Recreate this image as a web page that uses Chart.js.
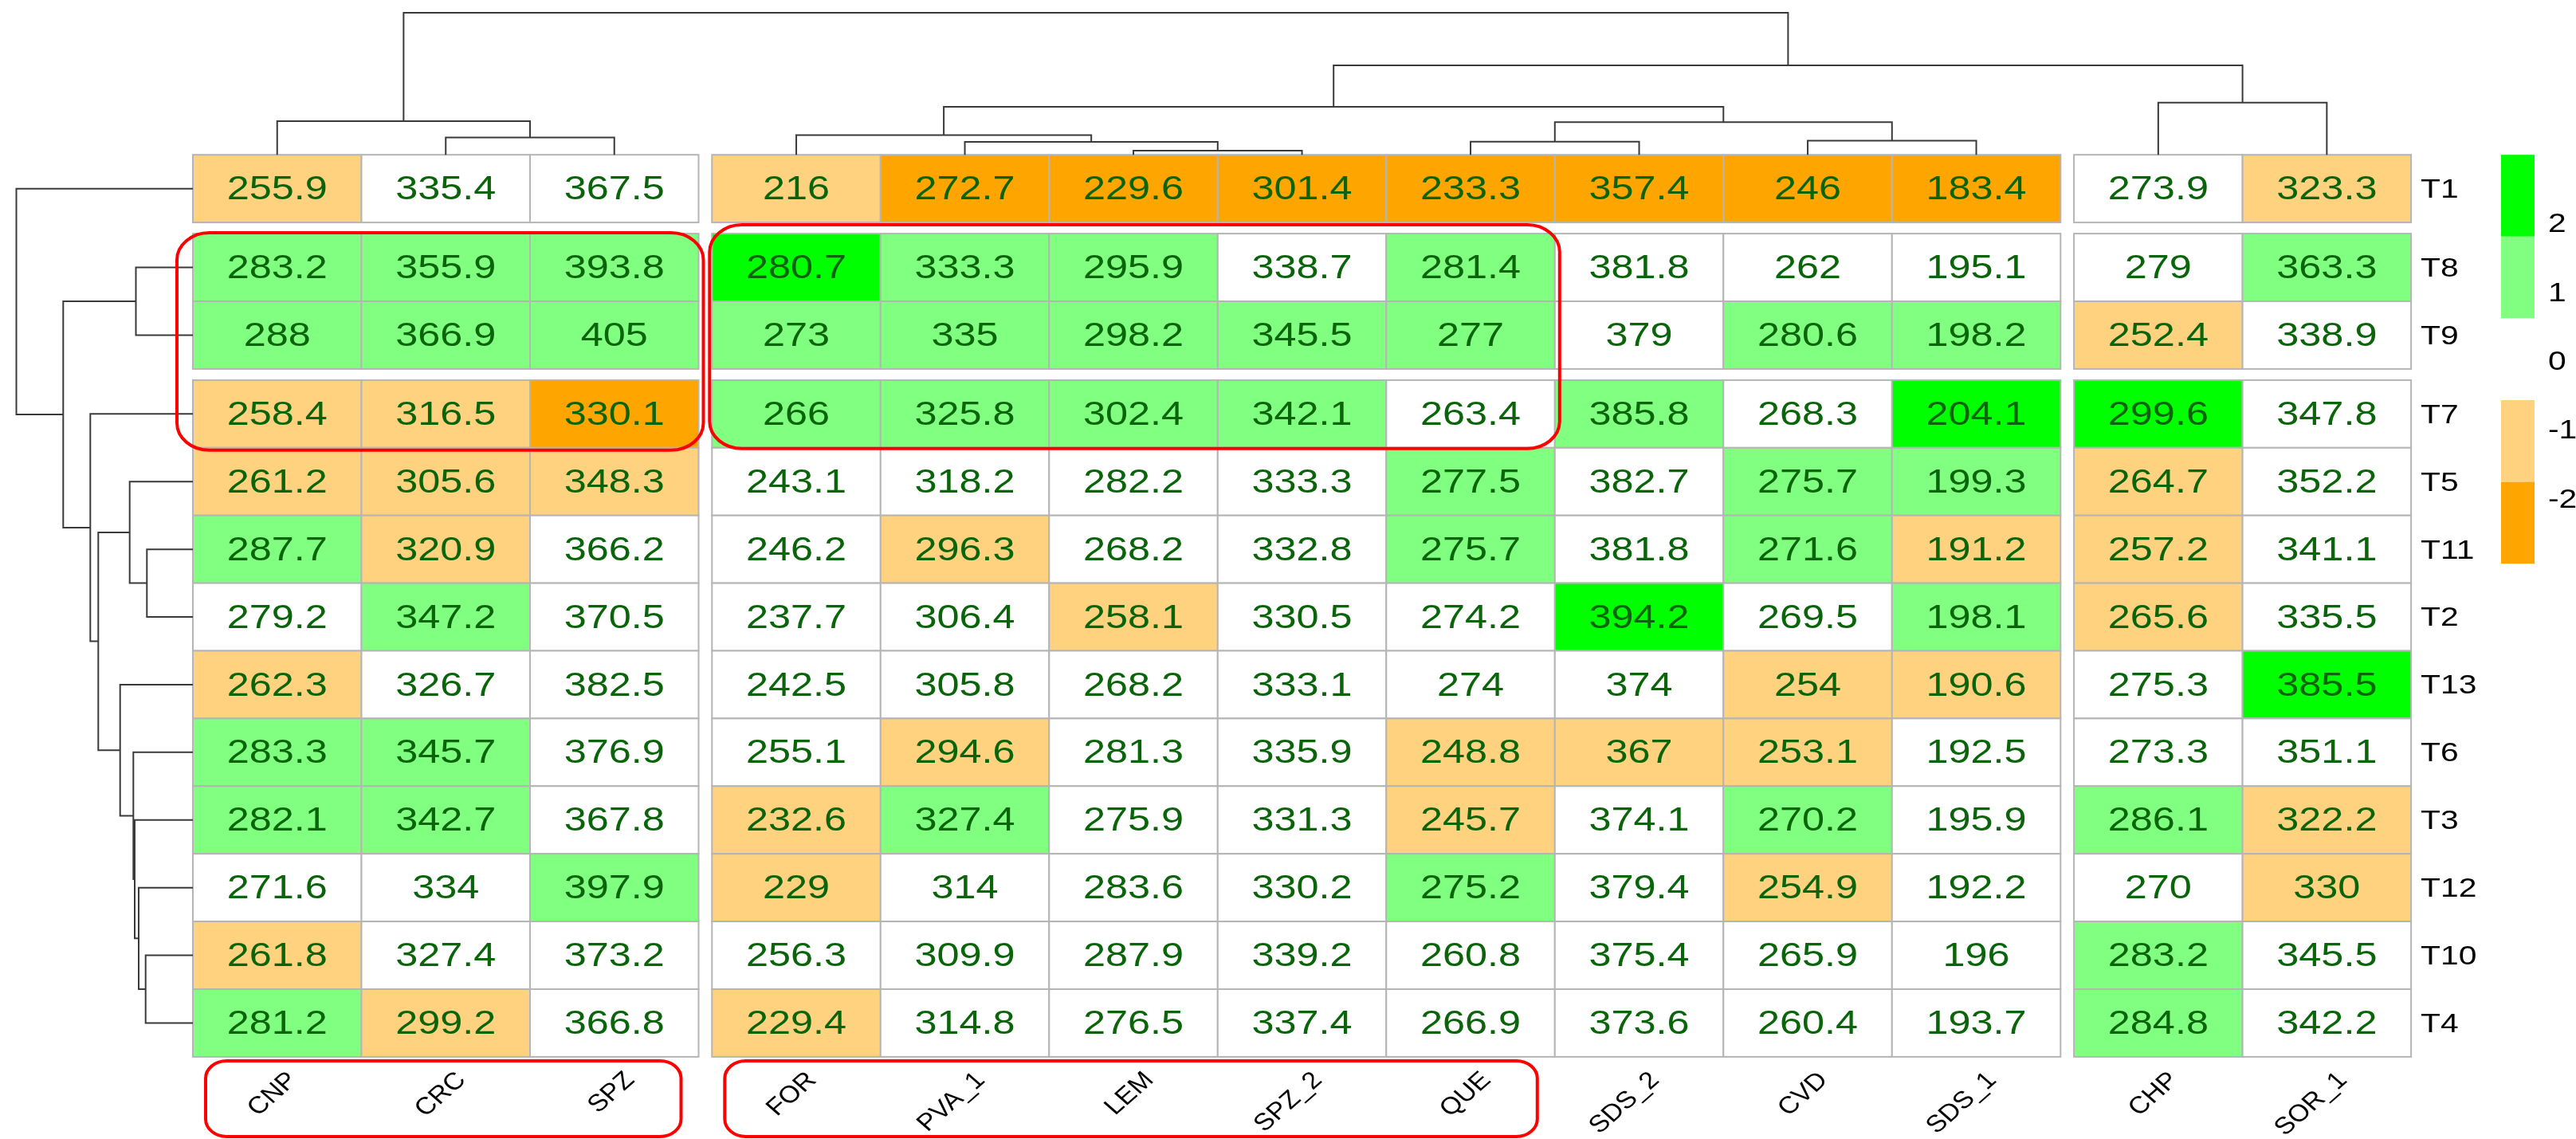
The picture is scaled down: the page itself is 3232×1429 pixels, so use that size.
<!DOCTYPE html>
<html>
<head>
<meta charset="utf-8">
<script src="https://cdn.jsdelivr.net/npm/chart.js@4.4.1/dist/chart.umd.min.js"></script>
<style>
  html, body { margin: 0; padding: 0; background: #fff; }
  canvas { display: block; }
</style>
</head>
<body>
<canvas id="heatmap" width="3232" height="1429"></canvas>
<script>
// columns (samples) and their split groups
const samples = ['CNP', 'CRC', 'SPZ', 'FOR', 'PVA_1', 'LEM', 'SPZ_2', 'QUE', 'SDS_2', 'CVD', 'SDS_1', 'CHP', 'SOR_1'];
const colGroup = [0, 0, 0, 1, 1, 1, 1, 1, 1, 1, 1, 2, 2];

// rows (treatments) and their split groups
const treatments = ['T1', 'T8', 'T9', 'T7', 'T5', 'T11', 'T2', 'T13', 'T6', 'T3', 'T12', 'T10', 'T4'];
const rowGroup = [0, 1, 1, 2, 2, 2, 2, 2, 2, 2, 2, 2, 2];

// cell values, one row per treatment
const values = [
    [255.9, 335.4, 367.5, 216, 272.7, 229.6, 301.4, 233.3, 357.4, 246, 183.4, 273.9, 323.3],
    [283.2, 355.9, 393.8, 280.7, 333.3, 295.9, 338.7, 281.4, 381.8, 262, 195.1, 279, 363.3],
    [288, 366.9, 405, 273, 335, 298.2, 345.5, 277, 379, 280.6, 198.2, 252.4, 338.9],
    [258.4, 316.5, 330.1, 266, 325.8, 302.4, 342.1, 263.4, 385.8, 268.3, 204.1, 299.6, 347.8],
    [261.2, 305.6, 348.3, 243.1, 318.2, 282.2, 333.3, 277.5, 382.7, 275.7, 199.3, 264.7, 352.2],
    [287.7, 320.9, 366.2, 246.2, 296.3, 268.2, 332.8, 275.7, 381.8, 271.6, 191.2, 257.2, 341.1],
    [279.2, 347.2, 370.5, 237.7, 306.4, 258.1, 330.5, 274.2, 394.2, 269.5, 198.1, 265.6, 335.5],
    [262.3, 326.7, 382.5, 242.5, 305.8, 268.2, 333.1, 274, 374, 254, 190.6, 275.3, 385.5],
    [283.3, 345.7, 376.9, 255.1, 294.6, 281.3, 335.9, 248.8, 367, 253.1, 192.5, 273.3, 351.1],
    [282.1, 342.7, 367.8, 232.6, 327.4, 275.9, 331.3, 245.7, 374.1, 270.2, 195.9, 286.1, 322.2],
    [271.6, 334, 397.9, 229, 314, 283.6, 330.2, 275.2, 379.4, 254.9, 192.2, 270, 330],
    [261.8, 327.4, 373.2, 256.3, 309.9, 287.9, 339.2, 260.8, 375.4, 265.9, 196, 283.2, 345.5],
    [281.2, 299.2, 366.8, 229.4, 314.8, 276.5, 337.4, 266.9, 373.6, 260.4, 193.7, 284.8, 342.2]
];

// colour class of each cell (-2 .. 2)
const levels = [
    [-1, 0, 0, -1, -2, -2, -2, -2, -2, -2, -2, 0, -1],
    [1, 1, 1, 2, 1, 1, 0, 1, 0, 0, 0, 0, 1],
    [1, 1, 1, 1, 1, 1, 1, 1, 0, 1, 1, -1, 0],
    [-1, -1, -2, 1, 1, 1, 1, 0, 1, 0, 2, 2, 0],
    [-1, -1, -1, 0, 0, 0, 0, 1, 0, 1, 1, -1, 0],
    [1, -1, 0, 0, -1, 0, 0, 1, 0, 1, -1, -1, 0],
    [0, 1, 0, 0, 0, -1, 0, 0, 2, 0, 1, -1, 0],
    [-1, 0, 0, 0, 0, 0, 0, 0, 0, -1, -1, 0, 2],
    [1, 1, 0, 0, -1, 0, 0, -1, -1, -1, 0, 0, 0],
    [1, 1, 0, -1, 1, 0, 0, -1, 0, 1, 0, 1, -1],
    [0, 0, 1, -1, 0, 0, 0, 1, 0, -1, 0, 0, -1],
    [-1, 0, 0, 0, 0, 0, 0, 0, 0, 0, 0, 1, 0],
    [1, -1, 0, -1, 0, 0, 0, 0, 0, 0, 0, 1, 0]
];

// legend classes (top to bottom) and their tick labels
const legendLevels = [2, 1, 0, -1, -2];
const legendTicks = ['2', '1', '0', '-1', '-2'];

// column clustering: [left, right, height]; names are leaves, numbers are earlier merges
const colMerges = [
    ['LEM', 'SPZ_2', 0.53],
    ['PVA_1', 0, 1.63],
    ['FOR', 1, 2.47],
    ['QUE', 'SDS_2', 1.64],
    ['CVD', 'SDS_1', 1.77],
    [3, 4, 4.10],
    [2, 5, 6.03],
    ['CRC', 'SPZ', 2.17],
    ['CNP', 7, 4.23],
    ['CHP', 'SOR_1', 6.54],
    [6, 9, 11.23],
    [8, 10, 17.83]
];

// row clustering
const rowMerges = [
    ['T11', 'T2', 5.77],
    ['T5', 0, 7.93],
    ['T10', 'T4', 5.93],
    ['T12', 2, 6.80],
    ['T3', 3, 7.30],
    ['T6', 4, 7.47],
    ['T13', 5, 9.13],
    [1, 6, 11.87],
    ['T7', 7, 12.87],
    ['T8', 'T9', 7.15],
    [9, 8, 16.27],
    ['T1', 10, 22.15]
];

// highlighted blocks
const boxes = [
    { cols: ['CNP', 'SPZ'], rows: ['T8', 'T7'] },
    { cols: ['FOR', 'QUE'], rows: ['T8', 'T7'] }
];
const labelBoxes = [['CNP', 'SPZ'], ['FOR', 'QUE']];

// ---- layout / style ----
const W = 3232, H = 1429;
const cellW = 211.5, cellH = 84.9;
const heatLeft = 242, heatTop = 194.2;
const colGap = 16.8 / cellW, rowGap = 14 / cellH;
const dendroScale = 10; // px per height unit
const stretch = 1.2;    // the original figure is stretched sideways
const fontFam = '"Liberation Sans", Arial, sans-serif';

const levelColors = { '2': '#00ff00', '1': '#80ff80', '0': '#ffffff', '-1': '#ffd280', '-2': '#ffa500' };

const colLeft = i => i + colGap * colGroup[i];
const rowTop = j => j + rowGap * rowGroup[j];

function dendroSets(merges, leaves, leafPos, horizontal, axisIds) {
    const pos = [], hgt = [];
    const get = k => typeof k === 'string'
        ? [leafPos(leaves.indexOf(k)), 0]
        : [pos[k], hgt[k]];
    const sets = [];
    merges.forEach(([a, b, h], m) => {
        const [pa, ha] = get(a), [pb, hb] = get(b);
        pos[m] = (pa + pb) / 2;
        hgt[m] = h;
        const pts = [[pa, ha], [pa, h], [pb, h], [pb, hb]];
        sets.push({
            data: pts.map(([p, v]) => horizontal ? { x: v, y: p } : { x: p, y: v }),
            showLine: true,
            borderColor: '#3a3a3a',
            borderWidth: 2,
            pointRadius: 0,
            tension: 0,
            fill: false,
            xAxisID: axisIds[0],
            yAxisID: axisIds[1]
        });
    });
    return sets;
}

function sText(ctx, text, x, y, size, color, align, baseline, angle, sx) {
    ctx.save();
    ctx.translate(x, y);
    ctx.scale(sx || stretch, 1);
    if (angle) ctx.rotate(angle);
    ctx.font = size + 'px ' + fontFam;
    ctx.fillStyle = color;
    ctx.textAlign = align;
    ctx.textBaseline = baseline;
    ctx.fillText(text, 0, 0);
    ctx.restore();
}

function sRoundRect(ctx, x0, y0, x1, y1, r) {
    ctx.save();
    ctx.scale(stretch, 1);
    ctx.beginPath();
    ctx.roundRect(x0 / stretch, y0, (x1 - x0) / stretch, y1 - y0, r);
    ctx.restore();
    ctx.stroke();
}

const heatPlugin = {
    id: 'heat',
    beforeDatasetsDraw(chart) {
        const { ctx } = chart;
        const xs = chart.scales.x, ys = chart.scales.y;
        ctx.save();
        treatments.forEach((t, r) => {
            const y0 = ys.getPixelForValue(rowTop(r)), y1 = ys.getPixelForValue(rowTop(r) + 1);
            samples.forEach((s, c) => {
                const x0 = xs.getPixelForValue(colLeft(c)), x1 = xs.getPixelForValue(colLeft(c) + 1);
                ctx.fillStyle = levelColors[levels[r][c]];
                ctx.fillRect(x0, y0, x1 - x0, y1 - y0);
                ctx.strokeStyle = '#b5b5b5';
                ctx.lineWidth = 2;
                ctx.strokeRect(x0, y0, x1 - x0, y1 - y0);
                sText(ctx, String(values[r][c]), (x0 + x1) / 2, (y0 + y1) / 2 + 2, 42, '#0a640a', 'center', 'middle');
            });
            // row label
            const xr = xs.getPixelForValue(colLeft(samples.length - 1) + 1);
            sText(ctx, t, xr + 12, (y0 + y1) / 2 + 2, 34, '#000', 'left', 'middle');
        });
        // column labels
        const yb = ys.getPixelForValue(rowTop(treatments.length - 1) + 1);
        samples.forEach((s, c) => {
            const xc = xs.getPixelForValue(colLeft(c) + 0.5);
            sText(ctx, s, xc + 8, yb + 14, 30, '#000', 'right', 'top', -Math.PI / 4, 1.14);
        });
        ctx.restore();
    },
    afterDatasetsDraw(chart) {
        const { ctx } = chart;
        const xs = chart.scales.x, ys = chart.scales.y;
        ctx.save();
        // legend
        const lx0 = 3138, lx1 = 3180, lTop = heatTop, lStep = 102.6;
        legendLevels.forEach((lv, k) => {
            ctx.fillStyle = levelColors[lv];
            ctx.fillRect(lx0, lTop + k * lStep, lx1 - lx0, lStep);
            sText(ctx, legendTicks[k], 3197, 282 + k * 86.3, 34, '#000', 'left', 'middle');
        });
        // red highlight boxes
        ctx.strokeStyle = '#ff0000';
        ctx.lineWidth = 4;
        const boxPads = [[20, 6, 1, 3], [3, 6, 11, 1]]; // left, right, top, bottom
        boxes.forEach((b, i) => {
            const c0 = samples.indexOf(b.cols[0]), c1 = samples.indexOf(b.cols[1]);
            const r0 = treatments.indexOf(b.rows[0]), r1 = treatments.indexOf(b.rows[1]);
            const [pl, pr, pt, pb] = boxPads[i];
            sRoundRect(ctx,
                xs.getPixelForValue(colLeft(c0)) - pl, ys.getPixelForValue(rowTop(r0)) - pt,
                xs.getPixelForValue(colLeft(c1) + 1) + pr, ys.getPixelForValue(rowTop(r1) + 1) + pb, 34);
        });
        const yb = ys.getPixelForValue(rowTop(treatments.length - 1) + 1);
        labelBoxes.forEach(([a, b]) => {
            const c0 = samples.indexOf(a), c1 = samples.indexOf(b);
            sRoundRect(ctx,
                xs.getPixelForValue(colLeft(c0)) + 16, yb + 5,
                xs.getPixelForValue(colLeft(c1) + 1) - 22, H - 3, 22);
        });
        ctx.restore();
    }
};

const colSets = dendroSets(colMerges, samples, i => colLeft(i) + 0.5, false, ['x', 'yh']);
const rowSets = dendroSets(rowMerges, treatments, j => rowTop(j) + 0.5, true, ['xh', 'y']);

new Chart(document.getElementById('heatmap'), {
    type: 'scatter',
    data: { datasets: colSets.concat(rowSets) },
    options: {
        responsive: false,
        devicePixelRatio: 1,
        animation: false,
        layout: { padding: 0, autoPadding: false },
        plugins: { legend: { display: false }, tooltip: { enabled: false }, title: { display: false } },
        scales: {
            x: { type: 'linear', display: false, min: -heatLeft / cellW, max: (W - heatLeft) / cellW },
            y: { type: 'linear', display: false, reverse: true, min: -heatTop / cellH, max: (H - heatTop) / cellH },
            yh: { type: 'linear', axis: 'y', display: false, min: -(H - heatTop) / dendroScale, max: heatTop / dendroScale },
            xh: { type: 'linear', axis: 'x', display: false, reverse: true, min: (heatLeft - W) / dendroScale, max: heatLeft / dendroScale }
        }
    },
    plugins: [heatPlugin]
});
</script>
</body>
</html>
